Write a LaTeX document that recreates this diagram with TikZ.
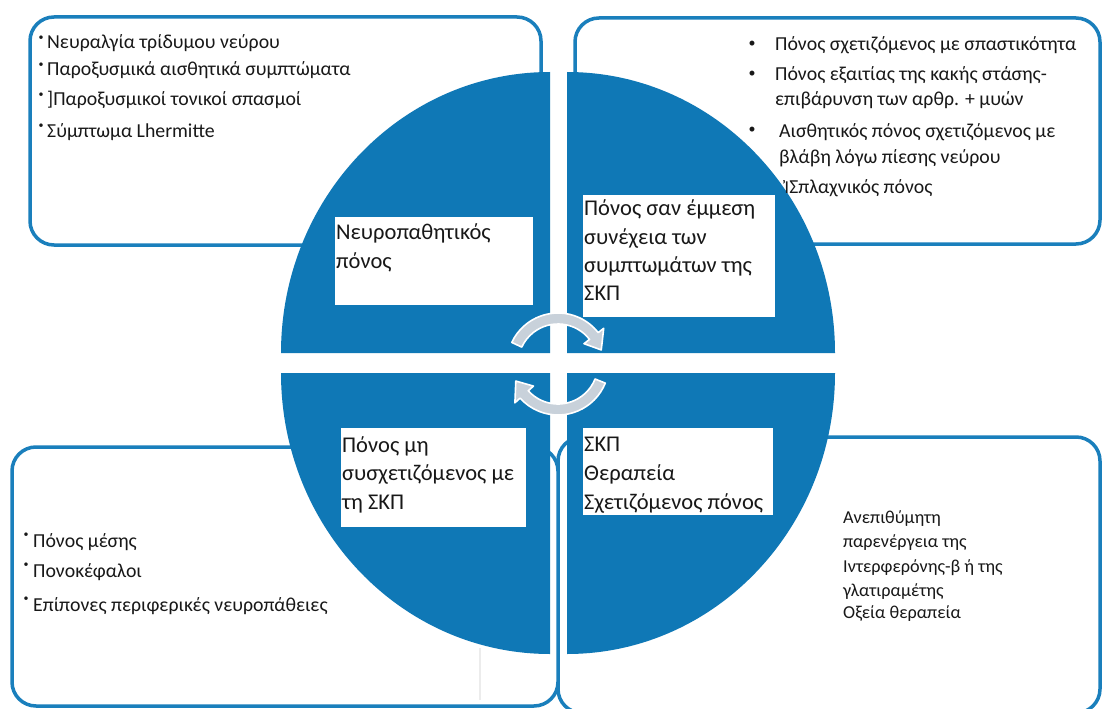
\documentclass[tikz,border=0pt]{standalone}
\usepackage{fontspec}
\setmainfont{Carlito}
\newfontfamily\hookfont{DejaVu Sans}
\definecolor{qblue}{RGB}{15,120,182}
\definecolor{frameblue}{RGB}{26,127,188}
\definecolor{cyclegray}{RGB}{200,209,218}
\definecolor{ink}{RGB}{24,24,24}
\begin{document}
\begin{tikzpicture}[x=1pt,y=1pt,
  panel/.style={draw=frameblue, line width=3.5pt, rounded corners=24pt, fill=white},
  quad/.style={fill=qblue},
  tag/.style={fill=white},
  big/.style={anchor=base west, inner sep=0pt, text=ink, font=\fontsize{22.5}{27}\selectfont},
  item/.style={anchor=base west, inner sep=0pt, text=ink, font=\fontsize{19.8}{24}\selectfont},
  note/.style={anchor=base west, inner sep=0pt, text=ink, font=\fontsize{18.2}{22}\selectfont},
  tdot/.style={anchor=center, inner sep=0pt, text=ink, font=\fontsize{10}{10}\selectfont},
  rdot/.style={anchor=center, inner sep=0pt, text=ink, font=\fontsize{14}{14}\selectfont},
  cyc/.style={fill=cyclegray, draw=white, line width=1.6pt, line join=round},
]
\useasboundingbox (0,0) rectangle (1104,-709);
\fill[white] (0,0) rectangle (1104,-709);

% corner panels
\path[panel] (30,-17) rectangle (541,-245);
\path[panel] (575,-18) rectangle (1100,-244);
\path[panel] (558,-437) rectangle (1100,-713);
\path[panel] (12,-447) rectangle (558,-706);
\draw[gray!15, line width=2pt] (480,-648) -- (480,-700);

% four quarters of the disc
\fill[quad] (550,-353) -- (281,-353) arc[start angle=180,end angle=90,x radius=269pt,y radius=281pt] -- cycle;
\fill[quad] (567,-353) -- (567,-72) arc[start angle=90,end angle=0,x radius=268pt,y radius=281pt] -- cycle;
\fill[quad] (567,-373) -- (835,-373) arc[start angle=0,end angle=-90,x radius=268pt,y radius=281pt] -- cycle;
\fill[quad] (550,-373) -- (550,-654) arc[start angle=270,end angle=180,x radius=269pt,y radius=281pt] -- cycle;

% white label fields
\fill[tag] (335,-217) rectangle (533,-305);
\fill[tag] (583,-195) rectangle (775,-317);
\fill[tag] (341,-428) rectangle (526,-527);
\fill[tag] (583,-428) rectangle (773,-515);

% quarter labels
\node[big] (q1a) at (336,-239) {Νευροπαθητικός};
\node[big] (q1b) at (336,-268) {πόνος};
\node[big] (q2a) at (584,-215) {Πόνος σαν έμμεση};
\node[big] (q2b) at (584,-244) {συνέχεια των};
\node[big] (q2c) at (584,-272) {συμπτωμάτων της};
\node[big] (q2d) at (584,-300) {ΣΚΠ};
\node[big] (q3a) at (342,-452) {Πόνος μη};
\node[big] (q3b) at (342,-480) {συσχετιζόμενος με};
\node[big] (q3c) at (342,-509) {τη ΣΚΠ};
\node[big] (q4a) at (584,-451) {ΣΚΠ};
\node[big] (q4b) at (584,-480) {Θεραπεία};
\node[big] (q4c) at (584,-509) {Σχετιζόμενος πόνος};

% upper left panel
\node[tdot] (d1) at (41,-38) {•};
\node[tdot] (d2) at (41,-65) {•};
\node[tdot] (d3) at (41,-95) {•};
\node[tdot] (d4) at (41,-126) {•};
\node[item] (t1) at (47,-49) {Νευραλγία τρίδυμου νεύρου};
\node[item] (t2) at (47,-76) {Παροξυσμικά αισθητικά συμπτώματα};
\node[item] (t3) at (47,-106) {]Παροξυσμικοί τονικοί σπασμοί};
\node[item] (t4) at (47,-137) {Σύμπτωμα Lhermitte};

% upper right panel
\node[rdot] (e1) at (752,-44) {•};
\node[rdot] (e2) at (752,-74) {•};
\node[rdot] (e3) at (752,-130) {•};
\node[item] (r1) at (775,-51) {Πόνος σχετιζόμενος με σπαστικότητα};
\node[item] (r2) at (775,-81) {Πόνος εξαιτίας της κακής στάσης-};
\node[item] (r3) at (775,-106) {επιβάρυνση των αρθρ. + μυών};
\node[item] (r4) at (779,-137) {Αισθητικός πόνος σχετιζόμενος με};
\node[item] (r5) at (779,-163) {βλάβη λόγω πίεσης νεύρου};
\node[item] (r6) at (783,-193) {{\hookfont\fontsize{16}{16}\selectfont Ἰ}Σπλαχνικός πόνος};

% lower left panel
\node[tdot] (f1) at (26,-535) {•};
\node[tdot] (f2) at (26,-565) {•};
\node[tdot] (f3) at (26,-599) {•};
\node[item] (l1) at (33,-547) {Πόνος μέσης};
\node[item] (l2) at (33,-577) {Πονοκέφαλοι};
\node[item] (l3) at (33,-611) {Επίπονες περιφερικές νευροπάθειες};

% lower right panel
\node[note] (g1) at (843,-523) {Ανεπιθύμητη};
\node[note] (g2) at (843,-547) {παρενέργεια της};
\node[note] (g3) at (843,-572) {Ιντερφερόνης-β ή της};
\node[note] (g4) at (843,-596) {γλατιραμέτης};
\node[note] (g5) at (843,-618) {Οξεία θεραπεία};

% cycle arrows in the middle
\begin{scope}[shift={(558,-364)}]
  \path[cyc] (155:51pt) arc[start angle=155,end angle=38,radius=51pt]
    -- (38:58pt) -- (18:45.5pt) -- (38:33pt) -- (38:40pt)
    arc[start angle=38,end angle=155,radius=40pt] -- cycle;
  \path[cyc] (-22:51pt) arc[start angle=-22,end angle=-138,radius=51pt]
    -- (-138:58pt) -- (-158:45.5pt) -- (-138:33pt) -- (-138:40pt)
    arc[start angle=-138,end angle=-22,radius=40pt] -- cycle;
\end{scope}
\end{tikzpicture}
\end{document}
